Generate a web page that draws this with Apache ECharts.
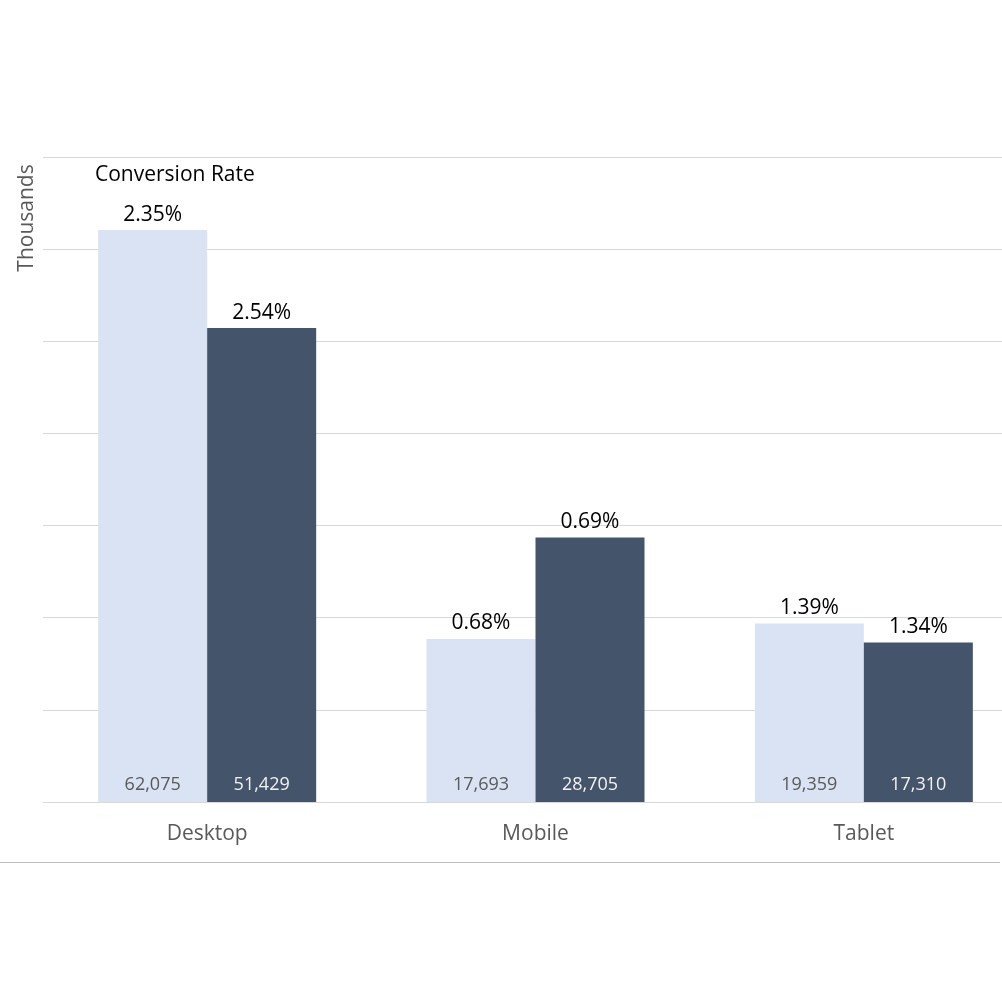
<!DOCTYPE html>
<html>
<head>
<meta charset="utf-8">
<script src="https://cdn.jsdelivr.net/npm/echarts@6/dist/echarts.min.js"></script>
<style>html,body{margin:0;padding:0;background:#fff}#c{width:1002px;height:1002px}</style>
</head>
<body>
<div id="c"></div>
<script>
const categories = ['Desktop', 'Mobile', 'Tablet'];
const seriesA = [62075, 17693, 19359];
const seriesB = [51429, 28705, 17310];
const ratesA = ['2.35%', '0.68%', '1.39%'];
const ratesB = ['2.54%', '0.69%', '1.34%'];
const yTicks = { min: 0, max: 70, interval: 10 };

const FONT = '"Open Sans", "Noto Sans", sans-serif';
const chart = echarts.init(document.getElementById('c'), null, { renderer: 'canvas' });

const GAP = '33.6%';
function topBar(name, vals, rates, color) {
  return {
    name: name, type: 'bar', xAxisIndex: 0, yAxisIndex: 0,
    data: vals.map(v => v / 1000),
    barGap: '0%', barCategoryGap: GAP,
    itemStyle: { color: color },
    label: {
      show: true, position: 'top', distance: 5,
      formatter: p => rates[p.dataIndex],
      fontFamily: FONT, fontSize: 21, color: '#000'
    }
  };
}
function valueBar(name, vals, textColor) {
  return {
    name: name, type: 'bar', xAxisIndex: 1, yAxisIndex: 1,
    data: vals.map(v => v / 1000),
    barGap: '0%', barCategoryGap: GAP,
    itemStyle: { color: 'rgba(0,0,0,0)' },
    label: {
      show: true, position: 'insideBottom', distance: 8,
      formatter: p => vals[p.dataIndex].toLocaleString('en-US'),
      fontFamily: FONT, fontSize: 18, color: textColor
    },
    silent: true, z: 5
  };
}

const gridBox = { left: 43, top: 157, width: 985, height: 645, containLabel: false, outerBoundsMode: 'none' };

const option = {
  animation: false,
  backgroundColor: '#fff',
  title: {
    text: 'Conversion Rate', left: 90, top: 160,
    textStyle: { fontFamily: FONT, fontSize: 21, fontWeight: 'normal', color: '#000' }
  },
  grid: [Object.assign({}, gridBox), Object.assign({}, gridBox)],
  xAxis: [{
    type: 'category', data: categories, gridIndex: 0,
    axisLine: { show: true, lineStyle: { color: '#d9d9d9', width: 1 } },
    axisTick: { show: false },
    axisLabel: { margin: 22, fontFamily: FONT, fontSize: 21, color: '#595959' }
  }, {
    type: 'category', data: categories, gridIndex: 1, show: false
  }],
  yAxis: [{
    type: 'value', gridIndex: 0, min: yTicks.min, max: yTicks.max, interval: yTicks.interval,
    axisLabel: { show: false },
    axisLine: { show: false }, axisTick: { show: false },
    splitLine: { lineStyle: { color: '#d9d9d9', width: 1 } }
  }, {
    type: 'value', gridIndex: 1, min: yTicks.min, max: yTicks.max, interval: yTicks.interval,
    show: false, splitLine: { show: false }
  }],
  graphic: [
    {
      type: 'text', x: 27, y: 218, rotation: Math.PI / 2,
      style: { text: 'Thousands', fontFamily: FONT, fontSize: 21, fill: '#595959', align: 'center', verticalAlign: 'middle' }
    },
    {
      type: 'line', shape: { x1: 0, y1: 862.5, x2: 1000, y2: 862.5 },
      style: { stroke: '#bfbfbf', lineWidth: 1 }
    }
  ],
  series: [
    topBar('A', seriesA, ratesA, '#dae3f3'),
    topBar('B', seriesB, ratesB, '#44546a'),
    valueBar('A_v', seriesA, '#595959'),
    valueBar('B_v', seriesB, '#f2f2f2')
  ]
};
chart.setOption(option);
</script>
</body>
</html>
